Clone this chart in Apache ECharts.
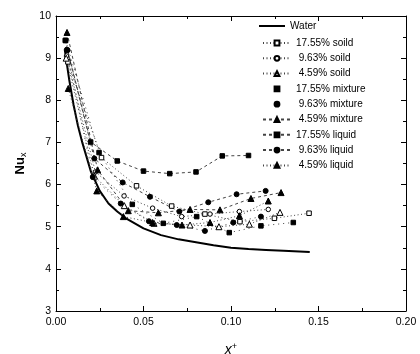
<!DOCTYPE html>
<html><head><meta charset="utf-8">
<script src="https://cdn.jsdelivr.net/npm/echarts@6/dist/echarts.min.js"></script>
<style>html,body{margin:0;padding:0;background:#fff}#c{width:420px;height:354px}</style>
</head><body><div id="c"></div>
<script>
// ---- data (x+, Nu_x) ----
const water = [[0.005,9.2],[0.0075,8.5],[0.01,7.9],[0.0125,7.4],[0.015,7.0],[0.0175,6.65],[0.02,6.3],[0.025,5.85],[0.03,5.55],[0.035,5.36],[0.04,5.2],[0.05,4.96],[0.06,4.8],[0.07,4.7],[0.08,4.63],[0.09,4.56],[0.10,4.5],[0.11,4.47],[0.12,4.45],[0.13,4.43],[0.145,4.4]];
const solid1755 = [[0.0068,8.91],[0.026,6.64],[0.046,5.97],[0.0661,5.49],[0.0851,5.30],[0.1051,5.12],[0.1248,5.20],[0.1446,5.32]];
const solid963 = [[0.006,9.05],[0.0225,6.3],[0.0389,5.73],[0.0552,5.44],[0.0718,5.24],[0.088,5.3],[0.1048,5.36],[0.1213,5.41]];
const solid459 = [[0.0058,9.0],[0.022,6.2],[0.039,5.5],[0.056,5.08],[0.0766,5.04],[0.0931,5.0],[0.1105,5.06],[0.128,5.34]];
const mix1755 = [[0.0055,9.42],[0.0246,6.76],[0.0436,5.53],[0.0613,5.08],[0.0804,5.24],[0.099,4.86],[0.1171,5.02],[0.1356,5.10]];
const mix963 = [[0.0062,9.2],[0.021,6.18],[0.037,5.55],[0.0531,5.13],[0.069,5.04],[0.0851,4.90],[0.1013,5.10],[0.1171,5.24]];
const mix459 = [[0.0063,9.61],[0.0238,6.35],[0.0413,5.38],[0.0585,5.33],[0.0766,5.41],[0.0937,5.40],[0.1114,5.67],[0.1286,5.81]];
const liq1755 = [[0.0053,9.42],[0.0198,7.01],[0.035,6.56],[0.05,6.32],[0.065,6.26],[0.08,6.30],[0.095,6.68],[0.11,6.69]];
const liq963 = [[0.0066,9.19],[0.0219,6.62],[0.0381,6.05],[0.0537,5.71],[0.0705,5.36],[0.087,5.58],[0.1032,5.77],[0.1198,5.85]];
const liq459 = [[0.007,8.28],[0.0233,5.85],[0.0385,5.24],[0.0552,5.1],[0.072,5.04],[0.088,5.1],[0.1048,5.26],[0.1213,5.61]];
const names = ['Water','17.55% soild',' 9.63% soild',' 4.59% soild','17.55% mixture',' 9.63% mixture',' 4.59% mixture','17.55% liquid',' 9.63% liquid',' 4.59% liquid'];

const FONT = 'Liberation Sans';
const DOT = [1,2.5], DASH = [3,3], SPARSE = [1,4];
function sc(name, data, symbol, open, dash, size) {
  return {
    name, type:'line', data, symbol, symbolSize:size, showSymbol:true,
    lineStyle:{color:'#444', width:1, type:dash},
    itemStyle:{color: open ? '#fff' : '#000', borderColor:'#000', borderWidth:1},
    emphasis:{disabled:true}, z:3
  };
}
const chart = echarts.init(document.getElementById('c'), null, {renderer:'canvas'});
const axisCommon = {
  axisLine:{show:true, onZero:false, lineStyle:{color:'#000', width:1}},
  axisTick:{show:true, inside:true, length:5, lineStyle:{color:'#000'}},
  minorTick:{show:true, splitNumber:2, length:3, lineStyle:{color:'#000'}},
  splitLine:{show:false}
};
chart.setOption({
  animation:false,
  backgroundColor:'#fff',
  grid:{left:56, right:14, top:16, bottom:43, containLabel:false, outerBoundsMode:'none'},
  xAxis:[
    Object.assign({type:'value', min:0, max:0.2, interval:0.05, position:'bottom',
      axisLabel:{color:'#000', fontFamily:FONT, fontSize:10.5, margin:6, formatter:v=>v.toFixed(2)},
      name:'{i|x}{s|+}', nameLocation:'middle', nameGap:31,
      nameTextStyle:{verticalAlign:'top', rich:{i:{fontFamily:FONT, fontStyle:'italic', fontSize:14, lineHeight:16, color:'#000'}, s:{fontFamily:FONT, fontSize:9, lineHeight:16, color:'#000', verticalAlign:'top'}}}
    }, axisCommon),
    Object.assign({type:'value', min:0, max:0.2, interval:0.05, position:'top', axisLabel:{show:false}}, axisCommon)
  ],
  yAxis:[
    Object.assign({type:'value', min:3, max:10, interval:1, position:'left',
      axisLabel:{color:'#000', fontFamily:FONT, fontSize:10.5, margin:5},
      name:'{a|Nu}{b|x}', nameLocation:'middle', nameGap:27,
      nameTextStyle:{rich:{a:{fontFamily:FONT, fontSize:13, fontWeight:'bold', color:'#000'}, b:{fontFamily:FONT, fontSize:9, color:'#000', padding:[6,0,0,0]}}}
    }, axisCommon),
    Object.assign({type:'value', min:3, max:10, interval:1, position:'right', axisLabel:{show:false}}, axisCommon)
  ],
  legend:[
    {data:[{name:names[0], icon:'rect'}], orient:'vertical', left:259, top:20, padding:0, itemWidth:26, itemHeight:2,
     itemStyle:{color:'#000'},
     textStyle:{fontFamily:FONT, fontSize:10, color:'#000', lineHeight:12}},
    {data:names.slice(1).map((n,i)=> (i===3||i===4) ? {name:n, lineStyle:{opacity:0}} : n),
     orient:'vertical', left:262, top:37, padding:0, itemWidth:28, itemHeight:6, itemGap:3.3,
     textStyle:{fontFamily:FONT, fontSize:10, color:'#000', lineHeight:12}}
  ],
  series:[
    {name:names[0], type:'line', data:water, showSymbol:false, symbol:'none', smooth:false,
     lineStyle:{color:'#000', width:2}, itemStyle:{color:'#000'}, z:2},
    sc(names[1], solid1755, 'rect', true, DOT, 4.5),
    sc(names[2], solid963, 'circle', true, DOT, 4.5),
    sc(names[3], solid459, 'triangle', true, DOT, 6),
    sc(names[4], mix1755, 'rect', false, SPARSE, 4.5),
    sc(names[5], mix963, 'circle', false, SPARSE, 5),
    sc(names[6], mix459, 'triangle', false, DASH, 6),
    sc(names[7], liq1755, 'rect', false, DASH, 4.5),
    sc(names[8], liq963, 'circle', false, DASH, 5),
    sc(names[9], liq459, 'triangle', false, DOT, 6)
  ]
});
</script></body></html>
